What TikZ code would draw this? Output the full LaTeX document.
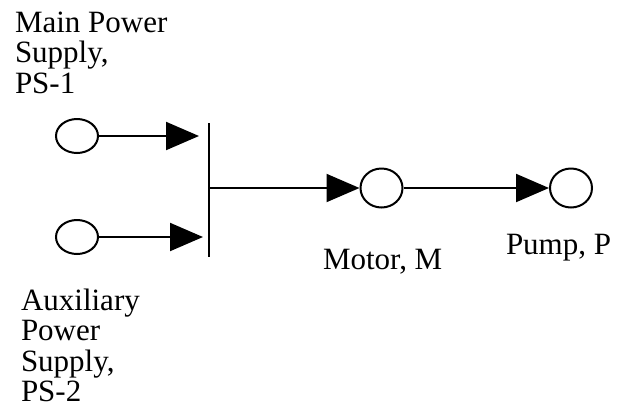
\documentclass[tikz,border=0pt]{standalone}
\usepackage{fontspec}
\setmainfont{Liberation Serif}
\usetikzlibrary{arrows.meta,shapes.geometric}

\begin{document}
\begin{tikzpicture}[x=1pt,y=-1pt,line width=2pt,
  unit/.style={draw,ellipse,inner sep=0pt,minimum width=42pt,minimum height=39pt},
  supply/.style={unit,minimum height=34pt},
  flow/.style={-{Triangle[length=33pt,width=28pt]}},
  lbl/.style={anchor=base west,inner sep=0pt,align=left,font=\fontsize{31}{30.5}\selectfont}]
\useasboundingbox (0,0) rectangle (623,410);
% sources
\node[supply] (ps1) at (77,136) {};
\node[supply] (ps2) at (77,237) {};
% bus bar
\coordinate (bustop) at (209,123);
\coordinate (busbot) at (209,257);
\coordinate (busmid) at (209,188);
\draw (bustop)--(busbot);
% motor and pump
\node[unit] (motor) at (381.5,188) {};
\node[unit] (pump) at (571,188) {};
\draw[flow] (ps1.east)--([xshift=-10pt]ps1 -| bustop);
\draw[flow] (ps2.east)--([xshift=-6pt]ps2 -| bustop);
\draw[flow] (busmid)--(motor.west);
\draw[flow] (motor.east)--(pump.west);
% labels (base = last line)
\node[lbl] (l1) at (14,93) {Main Power\\Supply,\\PS-1};
\node[lbl] (l2) at (20,401.5) {Auxiliary\\Power\\Supply,\\PS-2};
\node[lbl] (l3) at (322,269) {Motor, M};
\node[lbl] (l4) at (505,254) {Pump, P};
\end{tikzpicture}
\end{document}
